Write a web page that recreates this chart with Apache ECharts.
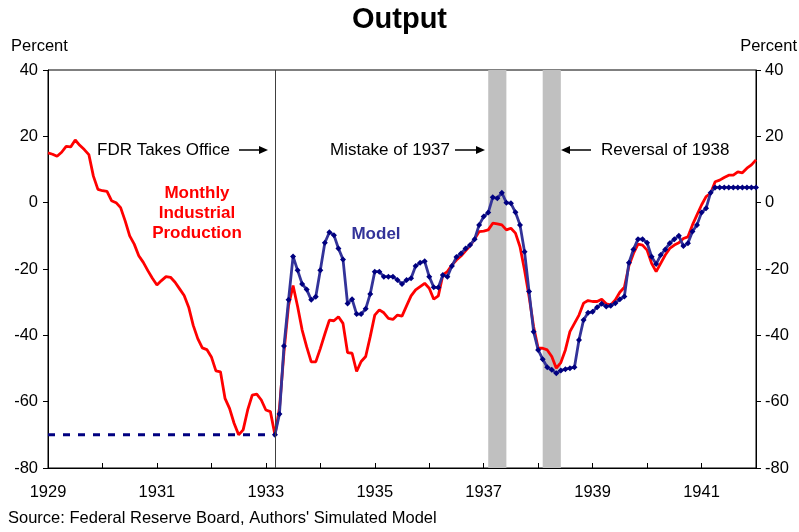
<!DOCTYPE html>
<html>
<head>
<meta charset="utf-8">
<script src="https://cdn.jsdelivr.net/npm/echarts@6/dist/echarts.min.js"></script>
<style>
  html, body { margin: 0; padding: 0; background: #fff; }
  #chart { width: 799px; height: 532px; }
</style>
</head>
<body>
<div id="chart"></div>
<script>
// monthly data, index 0 = Jan 1929, last = Jan 1942
const startYear = 1929
const industrialProduction = [
  15, 14.6, 14, 15.2, 17, 16.8, 18.9, 17.3, 16, 14.5,
  8, 4, 3.6, 3.4, 0.6, 0, -1.5, -5.5, -10, -12.5,
  -16, -18, -20.5, -22.8, -24.8, -23.5, -22.3, -22.5, -24, -26,
  -28, -31.5, -37, -41, -43.8, -44.3, -46.5, -50.7, -51, -59,
  -62, -66.5, -70, -68.5, -62.5, -58, -57.7, -59.5, -62.5, -63,
  -70,
  -62, -45, -31, -25, -31.3, -38.4, -43.5, -48, -48, -44,
  -39.6, -35.4, -35.6, -34.4, -36.4, -45.2, -45.4, -50.9, -47.9, -46.4,
  -40.4, -33.9, -32.3, -33.2, -34.9, -35.2, -33.9, -34.2, -31.1, -28.1,
  -26.3, -25.3, -24.3, -25.8, -29.1, -28.1, -21.8, -20.8, -18.8, -17.3,
  -16.1, -14.5, -13, -11, -8.7, -8.6, -8.2, -6.2, -6.4, -6.7,
  -8.2, -7.7, -9.2, -13.3, -20.3, -28.3, -37.4, -43.9, -43.9, -44.4,
  -46.4, -49.9, -48.2, -44.4, -38.9, -36.4, -33.9, -30.3, -29.5, -29.8,
  -29.8, -29.1, -30.5, -30.8, -29.3, -27, -25.5, -19, -15.3, -12.5,
  -12.8, -14.3, -18.3, -20.8, -18.3, -15.8, -13.8, -12.8, -12.1, -10.8,
  -10.3, -6.7, -3.7, -0.7, 1.8, 2.8, 6.3, 6.8, 7.6, 8.3,
  8.3, 9.3, 9, 10.4, 11.4, 12.9
]
// simulated model starts in March 1933
const modelStartMonth = 50
const modelOutput = [
  -70, -63.7, -43.2, -29.3, -16.2, -20.4, -24.5, -26.2, -29.3, -28.4,
  -20.4, -12.1, -8.9, -9.8, -13.8, -17.1, -30.4, -29.1, -33.6, -33.6,
  -32, -27.5, -20.8, -20.8, -22.3, -22.3, -22.3, -23.3, -24.5, -23.3,
  -22.8, -19.1, -18.1, -17.7, -22.3, -25.5, -25.6, -21.8, -22.3, -19.1,
  -16.4, -15.3, -13.8, -12.8, -11, -6.7, -4.2, -3, 1.6, 1.3,
  3, 0, -0.2, -2.9, -6.7, -14.8, -26.8, -38.9, -44.4, -47.2,
  -49.6, -50.4, -51.4, -50.6, -50.2, -49.9, -49.6, -41.4, -35.4, -33.2,
  -32.9, -31.5, -30.5, -31.3, -31.1, -30.3, -29.1, -28.3, -18.1, -14.1,
  -11, -11, -12.1, -16.3, -18.5, -15.8, -14.1, -12.2, -11, -10,
  -13.1, -12.2, -8.7, -6.7, -3, -1.7, 3, 4.6, 4.6, 4.6,
  4.6, 4.6, 4.6, 4.6, 4.6, 4.6, 4.6
]
const baselineMonths = [0, 50]
const baselineLevel = -70
const fdrMonth = 50
const shadedPeriods = [[97, 101], [109, 113]]

const toYear = m => startYear + m / 12
const font = '"Liberation Sans", Arial, sans-serif'

const chart = echarts.init(document.getElementById('chart'))

const yAxisBase = {
  type: 'value',
  min: -80,
  max: 40,
  interval: 20,
  axisLine: { show: true, lineStyle: { color: '#000', width: 1 } },
  axisTick: { show: true, inside: false, length: 5, lineStyle: { color: '#000' } },
  axisLabel: { color: '#000', fontSize: 16.5, fontFamily: font },
  splitLine: { show: false }
}

chart.setOption({
  animation: false,
  title: {
    text: 'Output',
    left: 'center',
    top: 0,
    textStyle: { fontSize: 29, fontWeight: 'bold', fontFamily: font, color: '#000' }
  },
  grid: {
    left: 48, right: 43, top: 70, bottom: 64,
    show: true, borderColor: '#000', borderWidth: 1, backgroundColor: 'transparent'
  },
  xAxis: {
    type: 'value',
    min: 1929,
    max: 1942,
    interval: 1,
    axisLine: { show: true, onZero: false, lineStyle: { color: '#000' } },
    axisTick: { show: true, inside: true, length: 5, lineStyle: { color: '#000' } },
    axisLabel: {
      color: '#000', fontSize: 16.5, fontFamily: font, margin: 16,
      formatter: v => (v % 2 === 1 && v < 1942 ? String(v) : '')
    },
    splitLine: { show: false }
  },
  yAxis: [
    Object.assign({}, yAxisBase, { position: 'left', axisLabel: Object.assign({}, yAxisBase.axisLabel, { margin: 10 }) }),
    Object.assign({}, yAxisBase, { position: 'right', axisLabel: Object.assign({}, yAxisBase.axisLabel, { margin: 9 }) })
  ],
  series: [
    {
      name: 'baseline',
      type: 'line',
      data: baselineMonths.map(m => [toYear(m), baselineLevel]),
      showSymbol: false,
      lineStyle: { color: '#000080', width: 3, type: [7, 8] },
      markArea: {
        silent: true,
        itemStyle: { color: '#C0C0C0' },
        data: shadedPeriods.map(([a, b]) => [{ xAxis: toYear(a) }, { xAxis: toYear(b) }])
      },
      markLine: {
        silent: true,
        symbol: 'none',
        label: { show: false },
        lineStyle: { color: '#404040', width: 1, type: 'solid' },
        data: [{ xAxis: toYear(fdrMonth) }]
      },
      z: 1
    },
    {
      name: 'Monthly Industrial Production',
      type: 'line',
      data: industrialProduction.map((v, i) => [toYear(i), v]),
      showSymbol: false,
      lineStyle: { color: '#FF0000', width: 2.8 },
      z: 2
    },
    {
      name: 'Model',
      type: 'line',
      data: modelOutput.map((v, i) => [toYear(modelStartMonth + i), v]),
      symbol: 'diamond',
      symbolSize: 6,
      itemStyle: { color: '#000080' },
      lineStyle: { color: '#333399', width: 2.8 },
      z: 3
    }
  ],
  graphic: [
    { type: 'text', x: 11, y: 46, style: { text: 'Percent', font: '16.5px ' + font, fill: '#000', verticalAlign: 'middle' } },
    { type: 'text', x: 797, y: 46, style: { text: 'Percent', font: '16.5px ' + font, fill: '#000', align: 'right', verticalAlign: 'middle' } },

    { type: 'text', x: 97, y: 150, style: { text: 'FDR Takes Office', font: '17px ' + font, fill: '#000', verticalAlign: 'middle' } },
    { type: 'line', shape: { x1: 239, y1: 150, x2: 262, y2: 150 }, style: { stroke: '#000', lineWidth: 1.5 } },
    { type: 'polygon', shape: { points: [[268, 150], [259, 146], [259, 154]] }, style: { fill: '#000' } },

    { type: 'text', x: 330, y: 150, style: { text: 'Mistake of 1937', font: '17px ' + font, fill: '#000', verticalAlign: 'middle' } },
    { type: 'line', shape: { x1: 455, y1: 150, x2: 478, y2: 150 }, style: { stroke: '#000', lineWidth: 1.5 } },
    { type: 'polygon', shape: { points: [[485, 150], [476, 146], [476, 154]] }, style: { fill: '#000' } },

    { type: 'text', x: 601, y: 150, style: { text: 'Reversal of 1938', font: '17px ' + font, fill: '#000', verticalAlign: 'middle' } },
    { type: 'line', shape: { x1: 591, y1: 150, x2: 568, y2: 150 }, style: { stroke: '#000', lineWidth: 1.5 } },
    { type: 'polygon', shape: { points: [[561, 150], [570, 146], [570, 154]] }, style: { fill: '#000' } },

    { type: 'text', x: 197, y: 213, style: { text: 'Monthly\nIndustrial\nProduction', font: 'bold 17px ' + font, fill: '#FF0000', align: 'center', verticalAlign: 'middle', lineHeight: 20 } },
    { type: 'text', x: 376, y: 234, style: { text: 'Model', font: 'bold 17px ' + font, fill: '#333399', align: 'center', verticalAlign: 'middle' } },

    { type: 'text', x: 8, y: 518, style: { text: "Source: Federal Reserve Board, Authors' Simulated Model", font: '16.5px ' + font, fill: '#000', verticalAlign: 'middle' } }
  ]
})
</script>
</body>
</html>
